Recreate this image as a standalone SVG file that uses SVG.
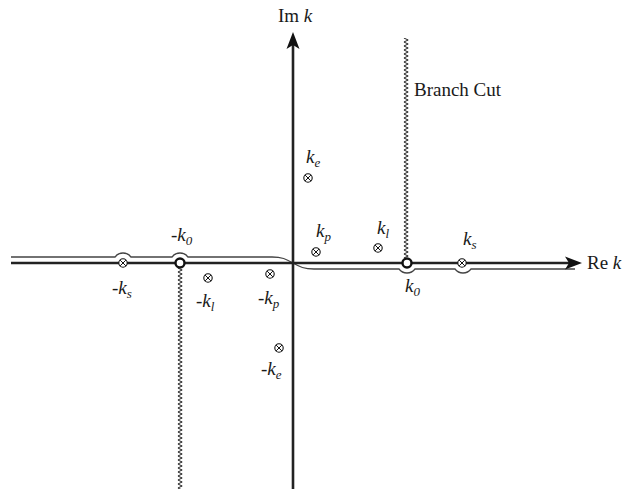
<svg xmlns="http://www.w3.org/2000/svg" width="626" height="490" viewBox="0 0 626 490">
<style>
.axis{stroke:#222;stroke-width:2.6;fill:none}
.contour{stroke:#444;stroke-width:1.3;fill:none}
.pole{stroke:#111;stroke-width:1.1;fill:#fff}
.bp{stroke:#111;stroke-width:2.4;fill:#fff}
.lab{font-family:"Liberation Serif","Times New Roman",serif;font-size:19px;fill:#1a1a1a}
.it{font-style:italic}
.sub{font-size:13px;font-style:italic}
.subn{font-size:13px}
</style>
<defs>
<pattern id="zig" patternUnits="userSpaceOnUse" width="8" height="4">
<path d="M1.8 0 L6.2 2 L1.8 4" stroke="#222" stroke-width="1" fill="none"/>
</pattern>
<g id="otimes">
<circle r="4.2" class="pole"/>
<path d="M-2.9 -2.9 L2.9 2.9 M-2.9 2.9 L2.9 -2.9" stroke="#111" stroke-width="1"/>
</g>
</defs>
<rect width="626" height="490" fill="#fff"/>
<g id="branch-cuts">
<g transform="translate(402,38)"><rect width="8" height="220" fill="url(#zig)"/></g>
<g transform="translate(176,268)"><rect width="8" height="221" fill="url(#zig)"/></g>
</g>
<g id="connectors">
<path class="contour" d="M11 257 H115 A10 10 0 0 1 131 257 H172 A10 10 0 0 1 188 257 H272 C282 257 286 259 293 263 C300 267 304 269 314 269 H399 A10 10 0 0 0 415 269 H455 A10 10 0 0 0 471 269 H575"/>
<path class="axis" d="M11 263 H570"/>
<path class="axis" d="M293 489 V44"/>
<path d="M582 263 L565 256.5 L569 263 L565 269.5 Z" fill="#111"/>
<path d="M293 32 L286.5 49 L293 45 L299.5 49 Z" fill="#111"/>
</g>
<g id="poles">
<use href="#otimes" x="123" y="263"/>
<use href="#otimes" x="208" y="278"/>
<use href="#otimes" x="270" y="274"/>
<use href="#otimes" x="279" y="348"/>
<use href="#otimes" x="308" y="178"/>
<use href="#otimes" x="316" y="252"/>
<use href="#otimes" x="378" y="248"/>
<use href="#otimes" x="462" y="263"/>
<circle class="bp" cx="180" cy="263" r="4.5"/>
<circle class="bp" cx="407" cy="263" r="4.5"/>
</g>
<g id="labels">
<text class="lab" x="587" y="269">Re <tspan class="it">k</tspan></text>
<text class="lab" x="278" y="22">Im <tspan class="it">k</tspan></text>
<text class="lab" x="414" y="96">Branch Cut</text>
<text class="lab it" x="171" y="241">-k<tspan class="subn" dy="4">0</tspan></text>
<text class="lab it" x="112" y="294">-k<tspan class="sub" dy="4">s</tspan></text>
<text class="lab it" x="196" y="307">-k<tspan class="sub" dy="4">l</tspan></text>
<text class="lab it" x="258" y="304">-k<tspan class="sub" dy="4">p</tspan></text>
<text class="lab it" x="261" y="375">-k<tspan class="sub" dy="4">e</tspan></text>
<text class="lab it" x="306" y="163">k<tspan class="sub" dy="4">e</tspan></text>
<text class="lab it" x="316" y="237">k<tspan class="sub" dy="4">p</tspan></text>
<text class="lab it" x="377" y="234">k<tspan class="sub" dy="4">l</tspan></text>
<text class="lab it" x="463" y="245">k<tspan class="sub" dy="4">s</tspan></text>
<text class="lab it" x="405" y="292">k<tspan class="subn" dy="4">0</tspan></text>
</g>
</svg>
